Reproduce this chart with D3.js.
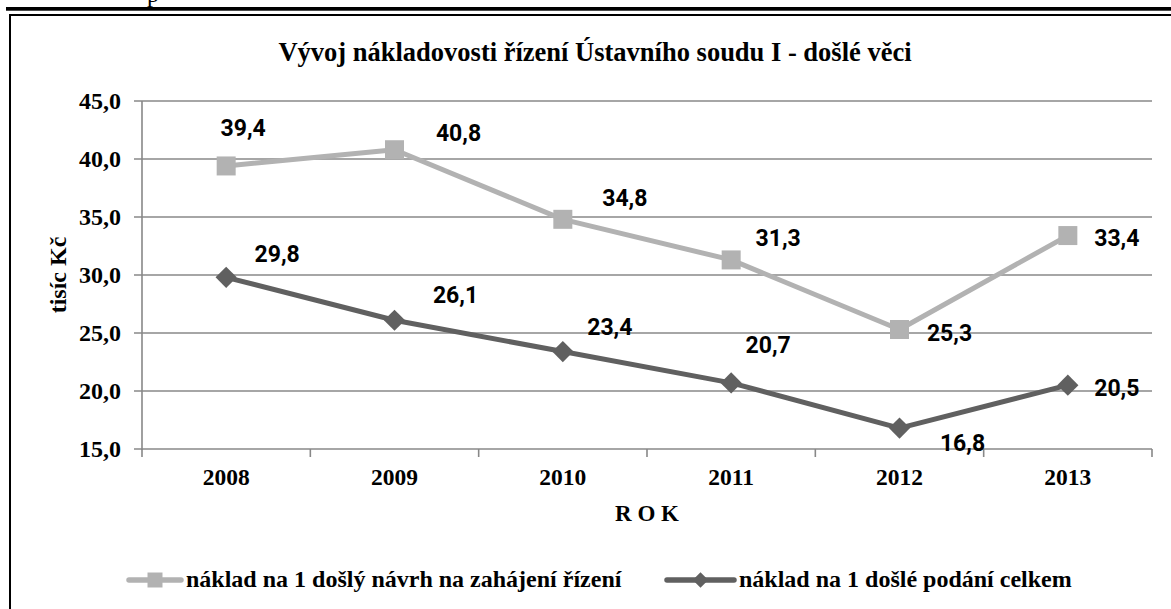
<!DOCTYPE html>
<html><head><meta charset="utf-8">
<script src="https://cdn.jsdelivr.net/npm/d3@7"></script>
<style>body{margin:0;background:#fff}svg{display:block}</style>
</head><body>
<script>
const years = ["2008","2009","2010","2011","2012","2013"];
const seriesNames = ["náklad na 1 došlý návrh na zahájení řízení","náklad na 1 došlé podání celkem"];
const valuesNavrh = [39.4, 40.8, 34.8, 31.3, 25.3, 33.4];
const valuesPodani = [29.8, 26.1, 23.4, 20.7, 16.8, 20.5];
const yTicks = [15, 20, 25, 30, 35, 40, 45];
const titleText = "Vývoj nákladovosti řízení Ústavního soudu I - došlé věci";
const yTitle = "tisíc Kč";
const xTitle = "R O K";

// label placement (layout)
const offNavrh = [[17,-38],[64,-17],[62,-22],[47,-22],[50,3],[49,2]];
const offPodani = [[51,-24],[61,-26],[47,-25],[37,-38],[63,15],[49,3]];

(function(){
const W = 1171, H = 609;
const svg = d3.select("body").append("svg").attr("width", W).attr("height", H);
const serif = "'Liberation Serif','Times New Roman',serif";
const sans = "Roboto, 'Open Sans', sans-serif";

svg.append("text").attr("x",147).attr("y",2).attr("font-family",serif).attr("font-size",24).text("p");
svg.append("rect").attr("x",6).attr("y",7).attr("width",W).attr("height",3.7).attr("fill","#000");
svg.append("rect").attr("x",10).attr("y",15).attr("width",1200).attr("height",700)
  .attr("fill","none").attr("stroke","#000").attr("stroke-width",2);

const pL = 142, pR = 1152, pT = 101, pB = 449;
const x = d3.scaleBand().domain(years).range([pL, pR]);
const y = d3.scaleLinear().domain([15, 45]).range([pB, pT]);
const cx = d => x(d) + x.bandwidth()/2;

svg.append("g").selectAll("line").data(yTicks).join("line")
  .attr("x1", pL-8).attr("x2", pR).attr("y1", d=>y(d)).attr("y2", d=>y(d))
  .attr("stroke", "#888").attr("stroke-width", 1.6);
svg.append("line").attr("x1",pL).attr("x2",pL).attr("y1",pT).attr("y2",pB+1)
  .attr("stroke","#888").attr("stroke-width",1.6);
const xb = years.map(d=>x(d)).concat([pR]);
svg.append("g").selectAll("line").data(xb).join("line")
  .attr("x1", d=>d).attr("x2", d=>d).attr("y1", pB).attr("y2", pB+8)
  .attr("stroke","#888").attr("stroke-width",1.6);

svg.append("g").selectAll("text").data(yTicks).join("text")
  .attr("x", 121).attr("y", d=>y(d)).attr("dy","0.33em").attr("text-anchor","end")
  .attr("font-family", serif).attr("font-weight","bold").attr("font-size",24)
  .text(d => d3.format(".1f")(d).replace(".", ","));
svg.append("g").selectAll("text").data(years).join("text")
  .attr("x", d=>cx(d)).attr("y", 485).attr("text-anchor","middle")
  .attr("font-family", serif).attr("font-weight","bold").attr("font-size",23.5).text(d=>d);

svg.append("text").attr("x", 595).attr("y", 61).attr("text-anchor","middle")
  .attr("font-family", serif).attr("font-weight","bold").attr("font-size",26.5).text(titleText);
svg.append("text").attr("transform","translate(66,275) rotate(-90)").attr("text-anchor","middle")
  .attr("font-family", serif).attr("font-weight","bold").attr("font-size",24).text(yTitle);
svg.append("text").attr("x", 647).attr("y", 521).attr("text-anchor","middle")
  .attr("font-family", serif).attr("font-weight","bold").attr("font-size",23).text(xTitle);

const lightC = "#b2b2b2", darkC = "#606060";
const line = d3.line().x((d,i)=>cx(years[i])).y(d=>y(d));
const square = d3.symbol().type(d3.symbolSquare).size(19*19);
const diamond = d3.symbol().type(d3.symbolSquare).size(15*15);

function drawSeries(vals, color, marker, rot, offs){
  svg.append("path").datum(vals).attr("d", line).attr("fill","none")
    .attr("stroke", color).attr("stroke-width", 5).attr("stroke-linejoin","round");
  svg.append("g").selectAll("path").data(vals).join("path")
    .attr("d", marker).attr("fill", color)
    .attr("transform", (d,i)=>`translate(${cx(years[i])},${y(d)}) rotate(${rot})`);
  svg.append("g").selectAll("text").data(vals).join("text")
    .attr("x", (d,i)=>cx(years[i]) + offs[i][0]).attr("y", (d,i)=>y(d) + offs[i][1])
    .attr("dy","0.36em").attr("text-anchor","middle")
    .attr("font-family", sans).attr("font-weight","bold").attr("font-size",23).attr("fill","#000")
    .text(d => d3.format(".1f")(d).replace(".", ","));
}
drawSeries(valuesNavrh, lightC, square, 0, offNavrh);
drawSeries(valuesPodani, darkC, diamond, 45, offPodani);

const legY = 580;
function legendItem(x0, len, color, marker, rot, label){
  svg.append("line").attr("x1",x0).attr("x2",x0+len).attr("y1",legY).attr("y2",legY)
    .attr("stroke",color).attr("stroke-width",5.5).attr("stroke-linecap","round");
  svg.append("path").attr("d", marker).attr("fill", color)
    .attr("transform", `translate(${x0+len/2},${legY}) rotate(${rot})`);
  svg.append("text").attr("x", x0+len+5).attr("y", legY).attr("dy","0.3em")
    .attr("font-family", serif).attr("font-weight","bold").attr("font-size",24).text(label);
}
legendItem(129, 52, lightC, d3.symbol().type(d3.symbolSquare).size(15*15), 0, seriesNames[0]);
legendItem(667, 67, darkC, d3.symbol().type(d3.symbolSquare).size(11*11), 45, seriesNames[1]);
})();
</script>
</body></html>
